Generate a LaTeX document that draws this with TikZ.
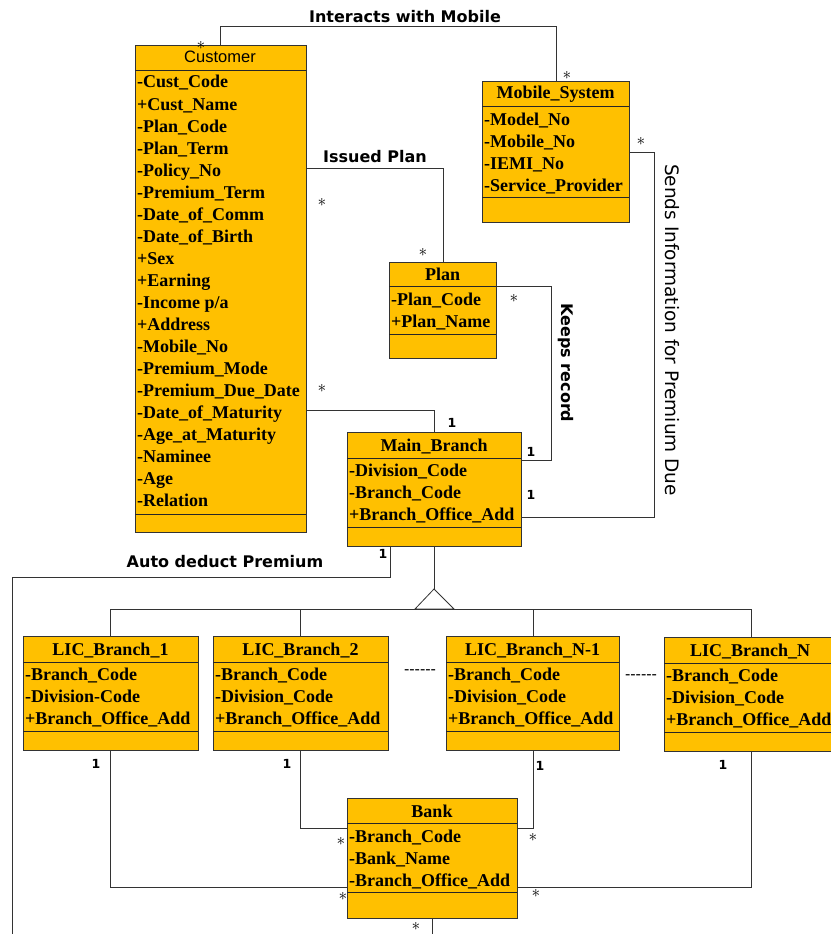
\documentclass[tikz,border=0pt]{standalone}
\usepackage{fontspec}
\setmainfont{Liberation Serif}
\newfontfamily\lblsans{DejaVu Sans}
\newfontfamily\hdrsans{Liberation Sans}
\definecolor{umlfill}{HTML}{FFC000}
\newcommand\myattrfont{\fontsize{18}{20}\selectfont\bfseries}
\newcommand\myhdrfont{\hdrsans\fontsize{16.5}{18}\selectfont}
\newcommand\mylblfont{\lblsans\bfseries\fontsize{16}{18}\selectfont}
\newcommand\mymultfont{\lblsans\bfseries\fontsize{12.5}{12.5}\selectfont}
\newcommand\mystarfont{\fontsize{17}{17}\selectfont}
% rows: name prefix, x, first centre y, step, list
\newcommand\attrrows[5]{%
  \foreach \t [count=\i from 0] in {#5} {\node[attr] (#1r\i) at (#2, {#3+#4*\i+6}) {\t};}%
}
\begin{document}
\begin{tikzpicture}[x=1pt,y=-1pt,
  clsbox/.style={draw=black!80, fill=umlfill, line width=0.9pt, inner sep=0pt, outer sep=0pt, anchor=north west},
  divline/.style={draw=black!85, line width=0.9pt},
  attr/.style={anchor=base west, inner sep=0pt, font=\myattrfont},
  ttl/.style={anchor=base, inner sep=0pt, font=\myattrfont},
  conn/.style={draw=black!80, line width=0.8pt},
  mult/.style={inner sep=0pt, font=\mymultfont},
  star/.style={inner sep=0pt, font=\mystarfont},
  lbl/.style={inner sep=0pt, font=\mylblfont},
]
\useasboundingbox (0,0) rectangle (830,934);

% ---------------- Customer
\node[clsbox, minimum width=171pt, minimum height=487pt] (cust) at (135,45) {};
\draw[divline] (cust.west |- 0,70) -- (cust.east |- 0,70);
\draw[divline] (cust.west |- 0,514) -- (cust.east |- 0,514);
\node[anchor=base, inner sep=0pt, font=\myhdrfont] (custT) at (220,63) {Customer};
\attrrows{cust}{137}{82}{22.05}{-Cust\_Code,+Cust\_Name,-Plan\_Code,-Plan\_Term,-Policy\_No,-Premium\_Term,-Date\_of\_Comm,-Date\_of\_Birth,+Sex,+Earning,-Income p/a,+Address,-Mobile\_No,-Premium\_Mode,-Premium\_Due\_Date,-Date\_of\_Maturity,-Age\_at\_Maturity,-Naminee,-Age,-Relation}

% ---------------- Mobile_System
\node[clsbox, minimum width=147pt, minimum height=141pt] (mob) at (482,81) {};
\draw[divline] (mob.west |- 0,106) -- (mob.east |- 0,106);
\draw[divline] (mob.west |- 0,197) -- (mob.east |- 0,197);
\node[ttl] (mobT) at (555.5,99) {Mobile\_System};
\attrrows{mob}{484}{119}{22}{-Model\_No,-Mobile\_No,-IEMI\_No,-Service\_Provider}

% ---------------- Plan
\node[clsbox, minimum width=107pt, minimum height=96pt] (plan) at (389,262) {};
\draw[divline] (plan.west |- 0,286) -- (plan.east |- 0,286);
\draw[divline] (plan.west |- 0,334) -- (plan.east |- 0,334);
\node[ttl] (planT) at (442.5,280) {Plan};
\attrrows{plan}{391}{299}{22}{-Plan\_Code,+Plan\_Name}

% ---------------- Main_Branch
\node[clsbox, minimum width=174pt, minimum height=114pt] (main) at (347,432) {};
\draw[divline] (main.west |- 0,458) -- (main.east |- 0,458);
\draw[divline] (main.west |- 0,527) -- (main.east |- 0,527);
\node[ttl] (mainT) at (434,451) {Main\_Branch};
\attrrows{main}{349}{470}{22}{-Division\_Code,-Branch\_Code,+Branch\_Office\_Add}

% ---------------- LIC branches
\node[clsbox, minimum width=175pt, minimum height=114pt] (licA) at (23,636) {};
\draw[divline] (licA.west |- 0,662) -- (licA.east |- 0,662);
\draw[divline] (licA.west |- 0,731) -- (licA.east |- 0,731);
\node[ttl] (licAT) at (110.5,655) {LIC\_Branch\_1};
\attrrows{licA}{25}{674}{22}{-Branch\_Code,-Division-Code,+Branch\_Office\_Add}

\node[clsbox, minimum width=175pt, minimum height=114pt] (licB) at (213,636) {};
\draw[divline] (licB.west |- 0,662) -- (licB.east |- 0,662);
\draw[divline] (licB.west |- 0,731) -- (licB.east |- 0,731);
\node[ttl] (licBT) at (300.5,655) {LIC\_Branch\_2};
\attrrows{licB}{215}{674}{22}{-Branch\_Code,-Division\_Code,+Branch\_Office\_Add}

\node[clsbox, minimum width=173pt, minimum height=114pt] (licC) at (446,636) {};
\draw[divline] (licC.west |- 0,662) -- (licC.east |- 0,662);
\draw[divline] (licC.west |- 0,731) -- (licC.east |- 0,731);
\node[ttl] (licCT) at (532.5,655) {LIC\_Branch\_N-1};
\attrrows{licC}{448}{674}{22}{-Branch\_Code,-Division\_Code,+Branch\_Office\_Add}

\node[clsbox, minimum width=172pt, minimum height=114pt] (licD) at (664,637) {};
\draw[divline] (licD.west |- 0,663) -- (licD.east |- 0,663);
\draw[divline] (licD.west |- 0,732) -- (licD.east |- 0,732);
\node[ttl] (licDT) at (750,656) {LIC\_Branch\_N};
\attrrows{licD}{666}{675}{22}{-Branch\_Code,-Division\_Code,+Branch\_Office\_Add}

\node[inner sep=0pt, font=\hdrsans\fontsize{16}{16}\selectfont] (dotsA) at (420,672) {------};
\node[inner sep=0pt, font=\hdrsans\fontsize{16}{16}\selectfont] (dotsB) at (641,677) {------};

% ---------------- Bank
\node[clsbox, minimum width=170pt, minimum height=120pt] (bank) at (347,798) {};
\draw[divline] (bank.west |- 0,823) -- (bank.east |- 0,823);
\draw[divline] (bank.west |- 0,892) -- (bank.east |- 0,892);
\node[ttl] (bankT) at (432,817) {Bank};
\attrrows{bank}{349}{836}{22}{-Branch\_Code,-Bank\_Name,-Branch\_Office\_Add}

% ---------------- connectors
\draw[conn] (cust.north -| 220,0) -- (220,26) -- (556,26) -- (mob.north -| 556,0);
\draw[conn] (cust.east |- 0,168) -- (443,168) -- (plan.north -| 443,0);
\draw[conn] (plan.east |- 0,286) -- (551,286) -- (551,460) -- (main.east |- 0,460);
\draw[conn] (mob.east |- 0,152) -- (654,152) -- (654,517) -- (main.east |- 0,517);
\draw[conn] (cust.east |- 0,410) -- (434,410) -- (main.north -| 434,0);
\coordinate (autoEnd) at (12,940);
\draw[conn] (main.south -| 390,0) -- (390,577) -- (12,577) -- (autoEnd);
\coordinate (genApex) at (434,589);
\draw[conn] (main.south -| 434,0) -- (genApex);
\draw[conn] (genApex) -- (415,609) -- (454,609) -- cycle;
\draw[conn] (110,609) -- (751,609);
\draw[conn] (110,609) -- (licA.north -| 110,0);
\draw[conn] (300,609) -- (licB.north -| 300,0);
\draw[conn] (533,609) -- (licC.north -| 533,0);
\draw[conn] (751,609) -- (licD.north -| 751,0);
\draw[conn] (licA.south -| 110,0) -- (110,887) -- (bank.west |- 0,887);
\draw[conn] (licB.south -| 300,0) -- (300,828) -- (bank.west |- 0,828);
\draw[conn] (licC.south -| 533,0) -- (533,828) -- (bank.east |- 0,828);
\draw[conn] (licD.south -| 751,0) -- (751,887) -- (bank.east |- 0,887);
\coordinate (bankEnd) at (432,940);
\draw[conn] (bank.south -| 432,0) -- (bankEnd);

% ---------------- labels
\node[lbl] (lInter) at (405,17) {Interacts with Mobile};
\node[lbl] (lIssued) at (375,157) {Issued Plan};
\node[lbl, rotate=-90] (lKeeps) at (566,363) {Keeps record};
\node[lbl, rotate=-90, font=\lblsans\fontsize{18.5}{20}\selectfont] (lSends) at (672,330) {Sends Information for Premium Due};
\node[lbl] (lAuto) at (225,562) {Auto deduct Premium};

% ---------------- multiplicities
\node[star] (s1) at (201,45) {$\ast$};
\node[star] (s2) at (567,75) {$\ast$};
\node[star] (s3) at (641,141) {$\ast$};
\node[star] (s4) at (322,202) {$\ast$};
\node[star] (s5) at (423,252) {$\ast$};
\node[star] (s6) at (514,298) {$\ast$};
\node[star] (s7) at (322,388) {$\ast$};
\node[star] (s8) at (341,841) {$\ast$};
\node[star] (s9) at (343,896) {$\ast$};
\node[star] (s10) at (416,926) {$\ast$};
\node[star] (s11) at (533,837) {$\ast$};
\node[star] (s12) at (536,893) {$\ast$};
\node[mult] (m1) at (452,423) {1};
\node[mult] (m2) at (531,452) {1};
\node[mult] (m3) at (531,495) {1};
\node[mult] (m4) at (383,554) {1};
\node[mult] (m5) at (96,764) {1};
\node[mult] (m6) at (287,764) {1};
\node[mult] (m7) at (540,766) {1};
\node[mult] (m8) at (723,765) {1};
\end{tikzpicture}
\end{document}
